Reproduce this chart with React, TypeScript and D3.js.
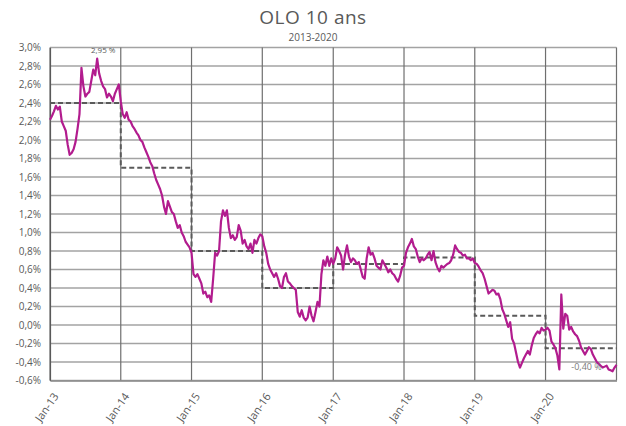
import { useEffect, useRef } from 'react'
import * as d3 from 'd3'

// OLO 10 ans (≈ 36 points par an, en %)
const years = [2013, 2014, 2015, 2016, 2017, 2018, 2019, 2020]

const olo2013 = [2.22, 2.26, 2.31, 2.37, 2.33, 2.36, 2.2, 2.15, 2.1, 1.95, 1.84, 1.86, 1.9, 1.98, 2.12, 2.28, 2.78, 2.58, 2.47, 2.5, 2.52, 2.64, 2.76, 2.7, 2.88, 2.72, 2.64, 2.58, 2.55, 2.46, 2.5, 2.47, 2.42, 2.5, 2.55, 2.6]
const olo2014 = [2.42, 2.28, 2.24, 2.3, 2.22, 2.2, 2.15, 2.12, 2.08, 2.05, 2.0, 1.98, 1.92, 1.87, 1.82, 1.76, 1.72, 1.64, 1.57, 1.52, 1.47, 1.4, 1.28, 1.2, 1.34, 1.28, 1.22, 1.2, 1.12, 1.05, 1.08, 1.0, 0.96, 0.9, 0.87, 0.84]
const olo2015 = [0.78, 0.55, 0.52, 0.55, 0.5, 0.45, 0.34, 0.36, 0.3, 0.32, 0.25, 0.5, 0.78, 0.75, 0.8, 1.12, 1.24, 1.18, 1.24, 1.05, 0.94, 0.97, 0.92, 0.95, 1.08, 1.02, 0.88, 0.92, 0.85, 0.82, 0.88, 0.78, 0.92, 0.88, 0.94, 0.98]
const olo2016 = [0.96, 0.85, 0.78, 0.66, 0.6, 0.56, 0.52, 0.56, 0.5, 0.42, 0.4, 0.52, 0.56, 0.47, 0.45, 0.42, 0.4, 0.38, 0.14, 0.09, 0.16, 0.08, 0.05, 0.08, 0.2, 0.1, 0.04, 0.14, 0.25, 0.2, 0.55, 0.7, 0.64, 0.74, 0.64, 0.72]
const olo2017 = [0.66, 0.72, 0.84, 0.8, 0.75, 0.6, 0.76, 0.86, 0.74, 0.68, 0.72, 0.7, 0.66, 0.68, 0.6, 0.52, 0.5, 0.72, 0.84, 0.76, 0.78, 0.72, 0.64, 0.62, 0.6, 0.7, 0.66, 0.62, 0.57, 0.6, 0.56, 0.54, 0.5, 0.47, 0.53, 0.62]
const olo2018 = [0.64, 0.78, 0.84, 0.88, 0.93, 0.85, 0.82, 0.74, 0.68, 0.72, 0.7, 0.72, 0.76, 0.79, 0.7, 0.8, 0.68, 0.62, 0.58, 0.64, 0.62, 0.64, 0.66, 0.67, 0.7, 0.76, 0.86, 0.82, 0.79, 0.78, 0.75, 0.76, 0.72, 0.72, 0.7, 0.72]
const olo2019 = [0.67, 0.66, 0.63, 0.59, 0.56, 0.5, 0.42, 0.34, 0.36, 0.38, 0.37, 0.33, 0.34, 0.28, 0.17, 0.12, 0.05, -0.02, 0.03, -0.15, -0.2, -0.3, -0.4, -0.46, -0.41, -0.36, -0.32, -0.28, -0.32, -0.22, -0.14, -0.1, -0.07, -0.09, -0.03, -0.06]
const olo2020 = [-0.05, -0.03, -0.06, -0.18, -0.21, -0.25, -0.33, -0.48, 0.33, -0.04, 0.12, 0.1, -0.05, -0.02, -0.07, -0.1, -0.12, -0.17, -0.24, -0.28, -0.32, -0.28, -0.24, -0.26, -0.32, -0.36, -0.4, -0.42, -0.44, -0.46, -0.45, -0.44, -0.48, -0.49, -0.5, -0.46, -0.43]

// moyennes annuelles (pointillés)
const annualAvg = [2.4, 1.7, 0.8, 0.4, 0.66, 0.73, 0.1, -0.25]

const yTicks = [-0.6, -0.4, -0.2, 0, 0.2, 0.4, 0.6, 0.8, 1.0, 1.2, 1.4, 1.6, 1.8, 2.0, 2.2, 2.4, 2.6, 2.8, 3.0]
const xTickLabels = ['Jan-13', 'Jan-14', 'Jan-15', 'Jan-16', 'Jan-17', 'Jan-18', 'Jan-19', 'Jan-20']

const maxLabel = '2,95 %'
const lastLabel = '-0,40 %'

const fmtPct = (v: number) => v.toFixed(1).replace('.', ',') + '%'

export default function App() {
  const svgRef = useRef<SVGSVGElement>(null)

  useEffect(() => {
    if (!svgRef.current) return
    const svg = d3.select(svgRef.current)
    svg.selectAll('*').remove()

    const W = 626
    const H = 426
    const margin = { top: 47.5, right: 9.5, bottom: 45.5, left: 50 }
    const width = W - margin.left - margin.right
    const height = H - margin.top - margin.bottom
    const font = "'Open Sans', 'DejaVu Sans', sans-serif"
    const textColor = '#595959'

    const x = d3
      .scaleTime()
      .domain([new Date(2013, 0, 1), new Date(2021, 0, 1)])
      .range([0, width])
    const y = d3.scaleLinear().domain([-0.6, 3.0]).range([height, 0])

    // series -> points datés, répartis uniformément dans l'année
    const allYears = [olo2013, olo2014, olo2015, olo2016, olo2017, olo2018, olo2019, olo2020]
    const data: { date: Date; value: number }[] = []
    allYears.forEach((vals, k) => {
      const yr = years[k]
      const start = new Date(yr, 0, 1).getTime()
      const end = new Date(yr + 1, 0, 1).getTime()
      const n = k === allYears.length - 1 ? vals.length - 1 : vals.length
      vals.forEach((v, i) => {
        data.push({ date: new Date(start + ((end - start) * i) / n), value: v })
      })
    })

    svg
      .append('text')
      .attr('x', W / 2)
      .attr('y', 24)
      .attr('text-anchor', 'middle')
      .style('font-family', font)
      .style('font-size', '19px')
      .style('letter-spacing', '0.5px')
      .style('fill', textColor)
      .text('OLO 10 ans')

    svg
      .append('text')
      .attr('x', W / 2)
      .attr('y', 41)
      .attr('text-anchor', 'middle')
      .style('font-family', font)
      .style('font-size', '10px')
      .style('fill', textColor)
      .text('2013-2020')

    const g = svg.append('g').attr('transform', `translate(${margin.left},${margin.top})`)

    // grille horizontale
    g.append('g')
      .selectAll('line')
      .data(yTicks)
      .enter()
      .append('line')
      .attr('x1', 0)
      .attr('x2', width)
      .attr('y1', d => y(d))
      .attr('y2', d => y(d))
      .attr('stroke', '#a3a3a3')
      .attr('stroke-width', 1.4)

    // grille verticale (années)
    const yearDates = years.map(yr => new Date(yr, 0, 1)).concat([new Date(2021, 0, 1)])
    g.append('g')
      .selectAll('line')
      .data(yearDates)
      .enter()
      .append('line')
      .attr('x1', d => x(d))
      .attr('x2', d => x(d))
      .attr('y1', 0)
      .attr('y2', height)
      .attr('stroke', '#6f6f6f')
      .attr('stroke-width', 1.2)

    // axe Y
    const yAxis = g
      .append('g')
      .call(d3.axisLeft(y).tickValues(yTicks).tickFormat(d => fmtPct(+d)).tickSize(0).tickPadding(9))
    yAxis.select('.domain').attr('stroke', '#595959').attr('stroke-width', 1.2)
    yAxis
      .selectAll('text')
      .style('font-family', font)
      .style('font-size', '10px')
      .style('fill', textColor)

    // axe X
    const xAxis = g
      .append('g')
      .attr('transform', `translate(0,${height})`)
      .call(
        d3
          .axisBottom(x)
          .tickValues(years.map(yr => new Date(yr, 0, 1)))
          .tickFormat((_, i) => xTickLabels[i])
          .tickSize(0)
      )
    xAxis.select('.domain').attr('stroke', '#8a8a8a').attr('stroke-width', 1.4)
    xAxis
      .selectAll('text')
      .style('font-family', font)
      .style('font-size', '11px')
      .style('fill', textColor)
      .attr('text-anchor', 'end')
      .attr('dy', '0.35em')
      .attr('transform', 'translate(3,12) rotate(-55)')

    // moyennes annuelles en escalier
    const stepData = annualAvg.map((v, i) => ({ date: new Date(years[i], 0, 1), value: v }))
    stepData.push({ date: new Date(2021, 0, 1), value: annualAvg[annualAvg.length - 1] })
    const step = d3
      .line<{ date: Date; value: number }>()
      .x(d => x(d.date))
      .y(d => y(d.value))
      .curve(d3.curveStepAfter)
    g.append('path')
      .datum(stepData)
      .attr('fill', 'none')
      .attr('stroke', '#5a5a5a')
      .attr('stroke-width', 2)
      .attr('stroke-dasharray', '5,3')
      .attr('d', step)

    // courbe OLO
    const line = d3
      .line<{ date: Date; value: number }>()
      .x(d => x(d.date))
      .y(d => y(d.value))
    g.append('path')
      .datum(data)
      .attr('fill', 'none')
      .attr('stroke', '#b21c8e')
      .attr('stroke-width', 2.2)
      .attr('stroke-linejoin', 'round')
      .attr('d', line)

    // annotations
    const maxPt = data.reduce((a, b) => (b.value > a.value ? b : a))
    g.append('text')
      .attr('x', x(maxPt.date) + 6)
      .attr('y', y(2.95) + 1)
      .attr('text-anchor', 'middle')
      .style('font-family', font)
      .style('font-size', '8px')
      .style('fill', textColor)
      .text(maxLabel)

    const lastPt = data[data.length - 1]
    g.append('text')
      .attr('x', x(lastPt.date) - 30)
      .attr('y', y(-0.49))
      .attr('text-anchor', 'middle')
      .style('font-family', font)
      .style('font-size', '9px')
      .style('fill', '#7a7a7a')
      .text(lastLabel)
  }, [])

  return (
    <svg
      ref={svgRef}
      width={626}
      height={426}
      style={{ position: 'absolute', left: 0, top: 0, background: '#fff' }}
    />
  )
}
